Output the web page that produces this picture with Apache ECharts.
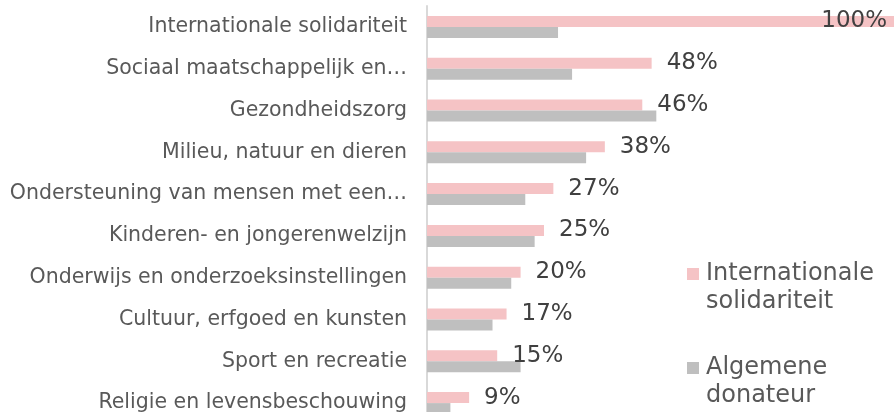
<!DOCTYPE html>
<html>
<head>
<meta charset="utf-8">
<script src="https://cdn.jsdelivr.net/npm/echarts@6/dist/echarts.min.js"></script>
<style>
  html, body { margin: 0; padding: 0; background: #ffffff; overflow: hidden; }
  /* the last row runs past the bottom edge in the original, so the canvas is a bit taller than the window */
  #chart { width: 894px; height: 424px; }
</style>
</head>
<body>
<div id="chart"></div>
<script>
const categories = [
  'Internationale solidariteit',
  'Sociaal maatschappelijk en…',
  'Gezondheidszorg',
  'Milieu, natuur en dieren',
  'Ondersteuning van mensen met een…',
  'Kinderen- en jongerenwelzijn',
  'Onderwijs en onderzoeksinstellingen',
  'Cultuur, erfgoed en kunsten',
  'Sport en recreatie',
  'Religie en levensbeschouwing'
];
const seriesNames = ['Internationale solidariteit', 'Algemene donateur'];
const internationaal = [100, 48, 46, 38, 27, 25, 20, 17, 15, 9];
const algemeen = [28, 31, 49, 34, 21, 23, 18, 14, 20, 5];

const font = 'DejaVu Sans';
const chart = echarts.init(document.getElementById('chart'));

// one legend per series so each can sit at its own spot;
// a leading blank line keeps the square level with the first text line
const legendBox = (name, top) => ({
  orient: 'vertical',
  left: 687,
  top: top,
  padding: 0,
  itemWidth: 12,
  itemHeight: 12,
  itemGap: 0,
  icon: 'rect',
  formatter: n => '\n' + n.replace(' ', '\n'),
  textStyle: { color: '#595959', fontSize: 24, lineHeight: 28, fontFamily: font, padding: [0, 0, 0, 2] },
  data: [name]
});

const option = {
  backgroundColor: '#ffffff',
  animation: false,
  textStyle: { fontFamily: font },
  grid: { left: 427, top: 6, width: 468, height: 418, outerBoundsMode: 'none' },
  legend: [legendBox(seriesNames[0], 232), legendBox(seriesNames[1], 326)],
  xAxis: {
    type: 'value',
    min: 0,
    max: 100,
    show: false
  },
  yAxis: {
    type: 'category',
    inverse: true,
    data: categories,
    axisTick: { show: false },
    axisLine: { lineStyle: { color: '#d9d9d9', width: 2 } },
    axisLabel: { color: '#595959', fontSize: 20.5, margin: 20 }
  },
  series: [
    {
      name: seriesNames[0],
      type: 'bar',
      barWidth: 11,
      barGap: '0%',
      itemStyle: { color: '#f5c3c5' },
      label: {
        show: true,
        position: 'right',
        distance: 15,
        color: '#404040',
        fontSize: 23,
        formatter: p => p.value + '%'
      },
      data: internationaal.map((v, i) => i === 0
        ? { value: v, label: { position: 'insideRight', distance: 8 } }
        : v)
    },
    {
      name: seriesNames[1],
      type: 'bar',
      barWidth: 11,
      itemStyle: { color: '#bfbfbf' },
      data: algemeen
    }
  ]
};

chart.setOption(option);
</script>
</body>
</html>
